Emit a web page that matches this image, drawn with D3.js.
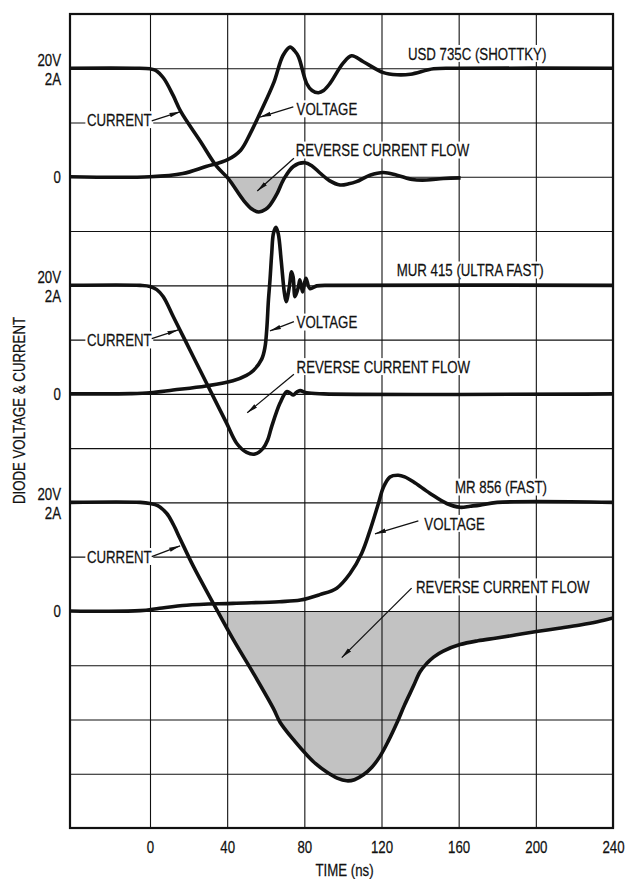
<!DOCTYPE html>
<html><head><meta charset="utf-8">
<script src="https://cdn.jsdelivr.net/npm/d3@7"></script>
<style>
html,body{margin:0;padding:0;background:#fff;}
svg{display:block;}
text{font-family:"Liberation Sans",Arial,Helvetica,sans-serif;fill:#111;stroke:#111;stroke-width:0.25px;}
</style></head><body>
<svg id="chart" width="627" height="879"></svg>
<script>
// ---------------- DATA ----------------
const timeTicks = [0, 40, 80, 120, 160, 200, 240];          // ns
const xTitle = "TIME (ns)";
const yTitle = "DIODE VOLTAGE & CURRENT";
const panelNames = ["USD 735C (SHOTTKY)", "MUR 415 (ULTRA FAST)", "MR 856 (FAST)"];
const levelLabels = ["20V", "2A", "0"];

// USD 735C (Schottky): [time ns, current A]
const usdCurrent = [[-42,2],[-8,2],[0,1.99],[3,1.96],[7,1.82],[12,1.5],[16,1.2],[26,0.66],[34.6,0.19],
  [40.5,-0.03],[48.4,-0.43],[53,-0.6],[56.4,-0.65],[60,-0.6],[62.2,-0.52],[66,-0.3],[69.1,-0.06],
  [74.3,0.19],[80.3,0.26],[84,0.2],[88.1,0.07],[93,-0.07],[98.5,-0.15],[103,-0.13],[107,-0.09],
  [114,0.03],[121,0.08],[128,0.03],[136,-0.05],[143.4,-0.06],[152,-0.03],[161,-0.02]];
// USD 735C: [time ns, voltage V]
const usdVoltage = [[-42,0],[0,0],[17,0.6],[29,1.9],[40,3.1],[47,4.9],[52,8],[57,11.7],[64,17.2],
  [69,22.4],[72.6,23.9],[75,23.2],[77,22.1],[81.2,17.2],[84,15.9],[87.3,15.5],[90,15.9],[93.3,17.2],
  [100,20.9],[104.5,22.3],[110.6,21.2],[121,19.2],[128,18.8],[135,18.9],[147,19.9],[160,20],[240,20]];

// MUR 415 (Ultra fast)
const murCurrent = [[-42,2],[-5,2],[0,1.98],[3.5,1.92],[6.9,1.79],[12.1,1.42],[19,0.93],[25.9,0.44],
  [32.8,-0.05],[39.7,-0.54],[44.9,-0.91],[50.1,-1.08],[54.4,-1.11],[58.7,-1.0],[61,-0.85],[63.1,-0.6],
  [67.4,-0.17],[70.8,0.04],[72.5,0.02],[74.3,-0.02],[76,0.03],[77.8,0.06],[81.2,0.02],[90,0],[240,0]];
const murVoltage = [[-42,0],[-10,0.05],[0,0.2],[12,0.7],[29,1.45],[43,2.4],[50,3.4],[53.6,4.3],[57.9,6.4],[59.6,8.6],
  [60.5,11.8],[61.4,17.3],[62.2,21],[63.1,25.9],[64,29.6],[65.3,30.7],[66.5,29.5],[68,24.6],[69.7,18.5],
  [70.6,17],[72.2,19.7],[73.4,22.5],[74.2,21.5],[75.2,17.9],[76.9,19.7],[77.7,21],[79.1,18.8],[80.8,21.3],
  [82.9,19.4],[86.4,19.9],[95,20],[240,20]];

// MR 856 (Fast)
const mrCurrent = [[-42,2],[-5,2],[0,1.98],[4,1.94],[8.6,1.8],[12,1.6],[15.6,1.33],[22.5,0.82],[32.8,0.14],
  [43.2,-0.53],[53.6,-1.15],[64,-1.8],[67.4,-2.05],[75,-2.4],[81.2,-2.65],[86,-2.82],[91.6,-2.97],[97,-3.08],
  [102,-3.13],[106,-3.11],[110.6,-3.02],[115,-2.88],[119.2,-2.68],[123.5,-2.4],[127.9,-2.07],[132,-1.73],
  [136.5,-1.39],[140,-1.12],[143.4,-0.97],[147,-0.85],[152,-0.74],[160.7,-0.62],[170,-0.55],[179.7,-0.5],
  [190,-0.44],[200.4,-0.38],[212,-0.32],[223,-0.26],[232,-0.2],[240,-0.13]];
const mrVoltage = [[-42,0],[-5,0.05],[5,0.5],[19,1.05],[43,1.4],[67,1.7],[78,2.0],[88,3.0],[96.8,4.2],[103.7,6.9],
  [109.7,10.6],[114,14.8],[118.4,19.8],[121,22.8],[124.4,24.7],[128.7,25],[132,24.7],[136.5,23.8],
  [145,21.7],[153.8,19.8],[160.7,19.1],[166,19.3],[171,19.5],[180,20],[240,20]];

// shaded reverse-current time windows (ns) per panel (null = not shaded)
const shadeWindows = [[38, 72], null, [30, 240]];

// annotations: [panel, label, textT, textV(A), arrowFromT, arrowFromV, arrowToT, arrowToV]
const annotations = [
  [0, "CURRENT", -32.7, 0.94, 0.9, 1.03, 15.8, 1.2],
  [0, "VOLTAGE", 76.0, 1.14, 74.3, 1.29, 57, 1.10],
  [0, "REVERSE CURRENT FLOW", 75.5, 0.38, 74.6, 0.34, 55.6, -0.26],
  [1, "CURRENT", -32.7, 0.88, 0.9, 1.02, 14.7, 1.18],
  [1, "VOLTAGE", 76.0, 1.21, 74.6, 1.33, 62.2, 1.16],
  [1, "REVERSE CURRENT FLOW", 76.0, 0.39, 74.6, 0.36, 50.4, -0.35],
  [2, "CURRENT", -32.7, 0.89, 0.9, 1.0, 15.6, 1.2],
  [2, "VOLTAGE", 142.2, 1.50, 139.1, 1.66, 116.6, 1.42],
  [2, "REVERSE CURRENT FLOW", 137.9, 0.33, 135.6, 0.42, 99.4, -0.86]
];
// panel name positions [t, value(A)]
const namePos = [[133.7, 2.16], [127.9, 2.17], [158.1, 2.17]];

// ---------------- LAYOUT ----------------
const W = 627, H = 879;
const L = 70, R = 613, T = 14, B = 828;
const FS = 17, SX = 0.78;
const INK = "#111";

const svg = d3.select("#chart");
const x = d3.scaleLinear().domain([0, 240]).range([150, R]);
// y in divisions (1 div = 1 A = 10 V), relative to bottom-panel zero
const y = d3.scaleLinear().domain([-4, 11]).range([B, T]);
const panelOffset = [8, 4, 0];
const py = (p, v) => y(v + panelOffset[p]);

const panels = [
  {cur: usdCurrent, vol: usdVoltage},
  {cur: murCurrent, vol: murVoltage},
  {cur: mrCurrent, vol: mrVoltage}
];

const defs = svg.append("defs");
defs.append("clipPath").attr("id", "plotclip").append("rect")
  .attr("x", L).attr("y", T).attr("width", R - L).attr("height", B - T);
defs.append("marker").attr("id", "arrow").attr("viewBox", "0 0 11 6")
  .attr("refX", 11).attr("refY", 3).attr("markerWidth", 11).attr("markerHeight", 6)
  .attr("markerUnits", "userSpaceOnUse").attr("orient", "auto")
  .append("path").attr("d", "M0,0.8 L11,3 L0,5.2 Z").attr("fill", INK);

// ---- shading ----
const fillLayer = svg.append("g");
panels.forEach((pd, p) => {
  const w = shadeWindows[p];
  if (!w) return;
  const id = "shade" + p;
  defs.append("clipPath").attr("id", id).append("rect")
    .attr("x", x(w[0])).attr("y", py(p, 0))
    .attr("width", x(w[1]) - x(w[0])).attr("height", py(p, -4) - py(p, 0));
  const area = d3.area().x(d => x(d[0])).y0(py(p, 0)).y1(d => py(p, d[1]))
    .curve(d3.curveCatmullRom.alpha(0.5));
  fillLayer.append("path").datum(pd.cur).attr("d", area)
    .attr("fill", "#c2c2c2").attr("clip-path", `url(#${id})`);
});

// ---- grid via axes ----
const gx = svg.append("g").attr("transform", `translate(0,${B})`)
  .call(d3.axisBottom(x).tickValues(timeTicks).tickSize(-(B - T)).tickPadding(13).tickFormat(d3.format("d")));
gx.attr("font-size", null).attr("font-family", null);
gx.select(".domain").remove();
gx.selectAll(".tick line").attr("stroke", INK).attr("stroke-width", 1.1);
gx.selectAll(".tick text").attr("font-size", FS).attr("fill", INK).attr("transform", `scale(${SX},1)`);

const gy = svg.append("g").attr("transform", `translate(${L},0)`)
  .call(d3.axisLeft(y).tickValues(d3.range(-4, 12)).tickSize(-(R - L)).tickFormat(""));
gy.select(".domain").remove();
gy.selectAll(".tick line").attr("stroke", INK).attr("stroke-width", 1.1);

// border
svg.append("rect").attr("x", L).attr("y", T).attr("width", R - L).attr("height", B - T)
  .attr("fill", "none").attr("stroke", INK).attr("stroke-width", 2.2);

// ---- labels with knock-out backgrounds ----
const labelLayer = svg.append("g");
function label(px, pyv, str, anchor) {
  const g = labelLayer.append("g").attr("transform", `translate(${px},${pyv}) scale(${SX},1)`);
  const rect = g.append("rect").attr("fill", "#fff").attr("stroke", "none");
  const t = g.append("text").text(str).attr("font-size", FS).attr("text-anchor", anchor || "start");
  const bb = t.node().getBBox();
  rect.attr("x", bb.x - 2).attr("y", bb.y + 1).attr("width", bb.width + 4).attr("height", bb.height - 2);
}
panels.forEach((pd, p) => {
  label(x(namePos[p][0]), py(p, namePos[p][1]), panelNames[p]);
});
annotations.forEach(a => label(x(a[2]), py(a[0], a[3]), a[1]));

// level labels on the left
[0, 1, 2].forEach(p => {
  const g1 = svg.append("g").attr("transform", `translate(61,${py(p, 2) - 2.5}) scale(${SX},1)`);
  g1.append("text").text(levelLabels[0]).attr("font-size", FS).attr("text-anchor", "end");
  const g2 = svg.append("g").attr("transform", `translate(61,${py(p, 2) + 16.5}) scale(${SX},1)`);
  g2.append("text").text(levelLabels[1]).attr("font-size", FS).attr("text-anchor", "end");
  const g3 = svg.append("g").attr("transform", `translate(61,${py(p, 0) + 6}) scale(${SX},1)`);
  g3.append("text").text(levelLabels[2]).attr("font-size", FS).attr("text-anchor", "end");
});

// axis titles
svg.append("text").attr("transform", `translate(344.5,876) scale(${SX},1)`)
  .attr("text-anchor", "middle").attr("font-size", FS).text(xTitle);
svg.append("text").attr("transform", `translate(25,410.5) rotate(-90) scale(${SX},1)`)
  .attr("text-anchor", "middle").attr("font-size", FS).text(yTitle);

// ---- curves ----
const curveLayer = svg.append("g").attr("clip-path", "url(#plotclip)");
panels.forEach((pd, p) => {
  const lineA = d3.line().x(d => x(d[0])).y(d => py(p, d[1])).curve(d3.curveCatmullRom.alpha(0.5));
  const lineV = d3.line().x(d => x(d[0])).y(d => py(p, d[1] / 10)).curve(d3.curveCatmullRom.alpha(0.5));
  curveLayer.append("path").datum(pd.cur).attr("d", lineA)
    .attr("fill", "none").attr("stroke", INK).attr("stroke-width", 3.6).attr("stroke-linejoin", "round");
  curveLayer.append("path").datum(pd.vol).attr("d", lineV)
    .attr("fill", "none").attr("stroke", INK).attr("stroke-width", 3.6).attr("stroke-linejoin", "round");
});

// ---- arrows ----
annotations.forEach(a => {
  svg.append("line")
    .attr("x1", x(a[4])).attr("y1", py(a[0], a[5]))
    .attr("x2", x(a[6])).attr("y2", py(a[0], a[7]))
    .attr("stroke", INK).attr("stroke-width", 1.3).attr("marker-end", "url(#arrow)");
});
</script>
</body></html>
